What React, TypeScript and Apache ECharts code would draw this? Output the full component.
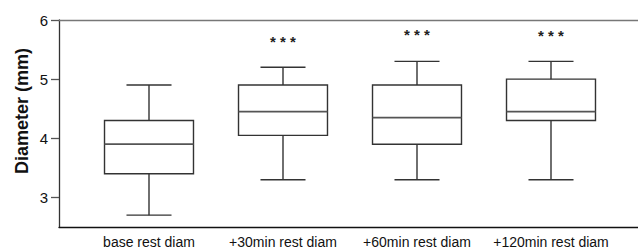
import React, { useEffect, useRef } from "react";
import * as echarts from "echarts";

const categories = ["base rest diam", "+30min rest diam", "+60min rest diam", "+120min rest diam"];
// [min, Q1, median, Q3, max]
const boxValues = [
  [2.7, 3.4, 3.9, 4.3, 4.9],
  [3.3, 4.05, 4.45, 4.9, 5.2],
  [3.3, 3.9, 4.35, 4.9, 5.3],
  [3.3, 4.3, 4.45, 5.0, 5.3],
];
const sigLabels = ["", "* * *", "* * *", "* * *"];
const sigPositions = [0, 5.63, 5.75, 5.73];
const yTicks = [3, 4, 5, 6];
const yMin = 2.5;
const yMax = 6;
const yTitle = "Diameter (mm)";

const FONT = "'Liberation Sans', Arial, Helvetica, sans-serif";

export default function App() {
  const ref = useRef<HTMLDivElement>(null);
  useEffect(() => {
    if (!ref.current) return;
    const chart = echarts.init(ref.current, null, { renderer: "svg" });
    const boxData = boxValues.map((v, i) => [i, ...v]);
    const sigData = sigLabels
      .map((t, i) => ({ value: [i, sigPositions[i]], label: t }))
      .filter((d) => d.label !== "");
    chart.setOption({
      animation: false,
      backgroundColor: "#fff",
      grid: [
        { left: 59, right: 0, top: 20, bottom: 22 },
        { left: 82, right: 20, top: 20, bottom: 22 },
      ],
      xAxis: [
        {
          type: "value", gridIndex: 0, min: 0, max: 1, position: "bottom",
          axisLine: { show: true, lineStyle: { color: "#111", width: 1.3 } },
          axisTick: { show: false }, axisLabel: { show: false }, splitLine: { show: false },
        },
        {
          type: "value", gridIndex: 0, min: 0, max: 1, position: "top",
          axisLine: { show: true, onZero: false, lineStyle: { color: "#777", width: 1.3 } },
          axisTick: { show: false }, axisLabel: { show: false }, splitLine: { show: false },
        },
        {
          type: "category", gridIndex: 1, data: categories,
          axisLine: { show: false }, axisTick: { show: false }, splitLine: { show: false },
          axisLabel: { color: "#111", fontSize: 14, fontFamily: FONT, margin: 8, interval: 0 },
        },
      ],
      yAxis: [
        {
          type: "value", gridIndex: 0, min: yMin, max: yMax,
          axisLine: { show: true, lineStyle: { color: "#333", width: 1.3 } },
          axisTick: { show: true, length: 8, customValues: yTicks, lineStyle: { color: "#555", width: 1.3 } },
          axisLabel: { customValues: yTicks, color: "#111", fontSize: 15, fontFamily: FONT, margin: 11 },
          splitLine: { show: false },
        },
        {
          type: "value", gridIndex: 1, min: yMin, max: yMax, show: false,
        },
      ],
      graphic: [
        {
          type: "text", x: 22, y: 111, rotation: Math.PI / 2,
          style: {
            text: yTitle, fill: "#111", font: `bold 18px ${FONT}`,
            textAlign: "center", textVerticalAlign: "middle",
          },
        },
      ],
      series: [
        {
          type: "custom",
          xAxisIndex: 2, yAxisIndex: 1,
          data: boxData,
          renderItem: (params: any, api: any) => {
            const idx = api.value(0);
            const band = api.size([1, 0])[0];
            const boxW = band * 0.664;
            const capW = band * 0.336;
            const pMin = api.coord([idx, api.value(1)]);
            const pQ1 = api.coord([idx, api.value(2)]);
            const pMed = api.coord([idx, api.value(3)]);
            const pQ3 = api.coord([idx, api.value(4)]);
            const pMax = api.coord([idx, api.value(5)]);
            const cx = pMed[0];
            const stroke = { stroke: "#333", lineWidth: 1.4, fill: "none" };
            return {
              type: "group",
              children: [
                { type: "rect", shape: { x: cx - boxW / 2, y: pQ3[1], width: boxW, height: pQ1[1] - pQ3[1] }, style: { ...stroke, fill: "#fff" } },
                { type: "line", shape: { x1: cx - boxW / 2, y1: pMed[1], x2: cx + boxW / 2, y2: pMed[1] }, style: { stroke: "#555", lineWidth: 1.8 } },
                { type: "line", shape: { x1: cx, y1: pQ3[1], x2: cx, y2: pMax[1] }, style: stroke },
                { type: "line", shape: { x1: cx, y1: pQ1[1], x2: cx, y2: pMin[1] }, style: stroke },
                { type: "line", shape: { x1: cx - capW / 2, y1: pMax[1], x2: cx + capW / 2, y2: pMax[1] }, style: stroke },
                { type: "line", shape: { x1: cx - capW / 2, y1: pMin[1], x2: cx + capW / 2, y2: pMin[1] }, style: stroke },
              ],
            };
          },
        },
        {
          type: "custom",
          xAxisIndex: 2, yAxisIndex: 1,
          data: sigData.map((d) => d.value),
          renderItem: (params: any, api: any) => {
            const p = api.coord([api.value(0), api.value(1)]);
            return {
              type: "text",
              x: p[0], y: p[1],
              style: {
                text: sigData[params.dataIndex].label,
                fill: "#222", font: `bold 15px ${FONT}`,
                textAlign: "center", textVerticalAlign: "middle",
              },
            };
          },
        },
      ],
    });
    return () => chart.dispose();
  }, []);
  return <div ref={ref} style={{ width: 638, height: 249, position: "absolute", left: 0, top: 0 }} />;
}
